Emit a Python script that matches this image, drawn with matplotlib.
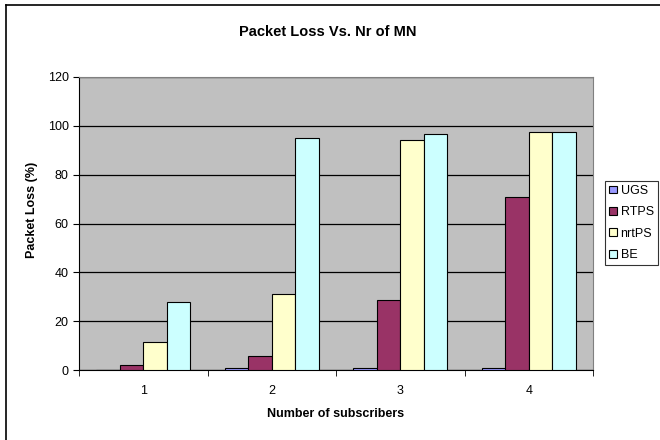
import numpy as np
import matplotlib
matplotlib.use("Agg")
import matplotlib.pyplot as plt
from matplotlib.lines import Line2D

plt.rcParams['font.family'] = ['Liberation Sans', 'DejaVu Sans']

subscribers = ['1', '2', '3', '4']
ugs = [0, 1.0, 1.0, 1.0]
rtps = [2.2, 5.7, 28.8, 71.0]
nrtps = [11.4, 31.3, 94.0, 97.6]
be = [27.8, 95.0, 96.6, 97.6]

series = [('UGS', ugs, '#9999FF'), ('RTPS', rtps, '#993366'),
          ('nrtPS', nrtps, '#FFFFCC'), ('BE', be, '#CCFFFF')]

fig = plt.figure(figsize=(6.6, 4.4), dpi=100)
ax = fig.add_axes([0.1197, 0.159, 0.7788, 0.666])
ax.set_facecolor('#C0C0C0')

x = np.arange(1, len(subscribers) + 1)
w = 0.183
for i, (name, vals, col) in enumerate(series):
    ax.bar(x + (i - 1.5) * w, vals, w, color=col, edgecolor='black',
           linewidth=0.8, label=name, zorder=3)

ax.set_xlim(0.5, 4.5)
ax.set_ylim(0, 120)
ax.set_yticks(range(0, 121, 20))
ax.yaxis.grid(True, color='black', linewidth=0.9, zorder=1)
ax.set_xticks(x)
ax.set_xticklabels(subscribers)
ax.set_xticks(np.arange(0.5, 4.6, 1), minor=True)
ax.tick_params(axis='x', which='major', length=0, pad=11, labelsize=9)
ax.tick_params(axis='x', which='minor', length=4, direction='out')
ax.tick_params(axis='y', length=4, direction='out', labelsize=9)

for s in ['left', 'bottom']:
    ax.spines[s].set_color('black')
for s in ['top', 'right']:
    ax.spines[s].set_color('#808080')

fig.text(0.497, 1 - 32 / 440, 'Packet Loss Vs. Nr of MN', ha='center', va='center',
         fontsize=10.5, fontweight='bold')
fig.text(0.509, 1 - 414 / 440, 'Number of subscribers', ha='center', va='center',
         fontsize=9, fontweight='bold')
fig.text(32 / 660, 1 - 210 / 440, 'Packet Loss (%)', ha='center', va='center',
         rotation=90, fontsize=9, fontweight='bold')

leg = fig.legend(loc='center left', bbox_to_anchor=(605 / 660, 1 - 223 / 440),
                 fontsize=9, frameon=True, fancybox=False, edgecolor='black',
                 handlelength=0.6, handleheight=0.6, handletextpad=0.3,
                 labelspacing=0.75, borderpad=0.35, borderaxespad=0)
leg.get_frame().set_linewidth(0.8)

# chart area border (cropped on right and bottom)
fig.add_artist(Line2D([6 / 660, 6 / 660], [0, 1 - 5.5 / 440], color='black', linewidth=1.2))
fig.add_artist(Line2D([6 / 660, 1], [1 - 5.5 / 440, 1 - 5.5 / 440], color='black', linewidth=1.2))

fig.savefig('out.png', dpi=100)
